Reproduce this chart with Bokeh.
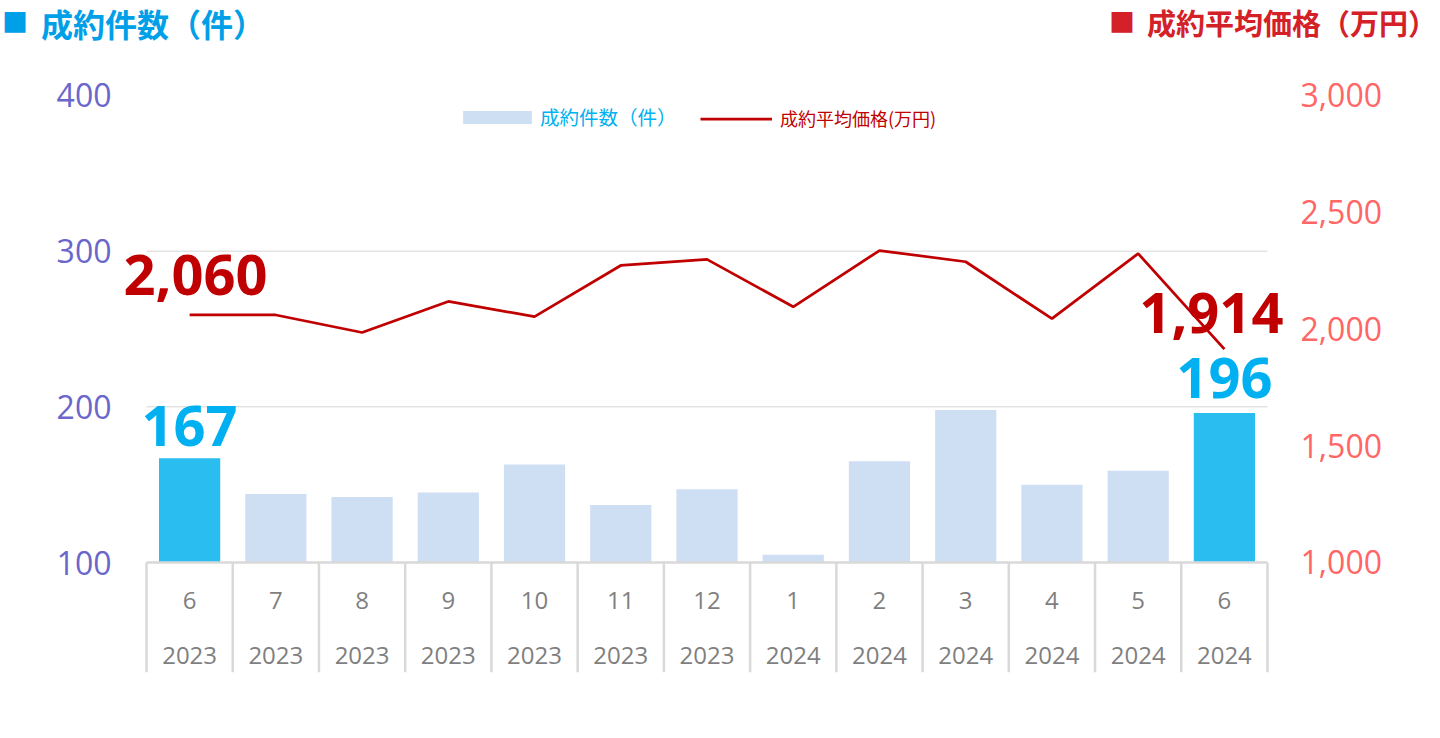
from bokeh.plotting import figure
from bokeh.layouts import column
from bokeh.models import (Range1d, LinearAxis, FixedTicker, Legend, LegendItem,
                          NumeralTickFormatter, ColumnDataSource, Div)
from bokeh.core.properties import value
from bokeh.embed import file_html
from bokeh.resources import INLINE

# ---- data ----
months = ["6", "7", "8", "9", "10", "11", "12", "1", "2", "3", "4", "5", "6"]
years = ["2023"] * 7 + ["2024"] * 6
counts = [167, 144, 142, 145, 163, 137, 147, 105, 165, 198, 150, 159, 196]
prices = [2060, 2060, 1985, 2118, 2053, 2272, 2298, 2095, 2336, 2288, 2044, 2323, 1914]
left_ticks = [100, 200, 300, 400]
right_ticks = [1000, 1500, 2000, 2500, 3000]
grid_ticks = [200, 300]
title_left = "成約件数（件）"
title_right = "成約平均価格（万円）"
legend_bar = "成約件数（件）"
legend_line = "成約平均価格(万円)"

n = len(months)
xs = [i + 0.5 for i in range(n)]
hl_idx = [0, n - 1]

JP = "Noto Sans CJK JP"
NUM = "Open Sans"
W = 1440
HEAD_H = 47
MAIN_H = 689
BLUE_T = "#00a0e9"
RED_T = "#d42027"

# ---------- header (two titles) ----------
def span(txt, left, top, size, color, bold=True):
    fw = "bold" if bold else "normal"
    return (f'<span style="position:absolute;left:{left}px;top:{top}px;line-height:normal;'
            f'font-size:{size}px;font-weight:{fw};color:{color};white-space:nowrap;'
            f'font-family:\'{JP}\';">{txt}</span>')

header_html = (f'<div style="position:relative;width:{W}px;height:{HEAD_H}px;margin:0;padding:0;">'
               + span("■", 2, 2, 26, BLUE_T, False)
               + span(title_left, 41, 0, 32, BLUE_T)
               + span("■", 1109, 2, 26, RED_T, False)
               + span(title_right, 1147, 1, 29, RED_T)
               + '</div>')
h = Div(text=header_html, width=W, height=HEAD_H, styles={"margin": "0", "padding": "0"})

# ---------- main chart ----------
y_lo, y_hi = 29.34, 425.05
p_lo, p_hi = 528.9, 3167.0
x_lo, x_hi = -0.3015, n + 0.2087

p = figure(width=W, height=MAIN_H, output_backend="svg", toolbar_location=None,
           x_range=Range1d(x_lo, x_hi), y_range=Range1d(y_lo, y_hi),
           x_axis_location=None, min_border_left=120, min_border_right=155,
           min_border_top=9, min_border_bottom=64, outline_line_color=None,
           background_fill_color="white", border_fill_color="white")
p.extra_y_ranges = {"price": Range1d(p_lo, p_hi)}

ya = p.yaxis[0]
ya.ticker = FixedTicker(ticks=left_ticks)
ya.axis_line_color = None
ya.major_tick_line_color = None
ya.minor_tick_line_color = None
ya.major_label_text_font = NUM
ya.major_label_text_font_size = "32px"
ya.major_label_text_color = "#6a66cc"
ya.major_label_standoff = 3

ra = LinearAxis(y_range_name="price", ticker=FixedTicker(ticks=right_ticks),
                formatter=NumeralTickFormatter(format="0,0"))
ra.axis_line_color = None
ra.major_tick_line_color = None
ra.minor_tick_line_color = None
ra.major_label_text_font = NUM
ra.major_label_text_font_size = "32px"
ra.major_label_text_color = "#ff6666"
ra.major_label_standoff = 9
p.add_layout(ra, "right")

p.grid.visible = False
# horizontal gridlines spanning the category area only
p.segment(x0=[0] * len(grid_ticks), y0=grid_ticks, x1=[n] * len(grid_ticks), y1=grid_ticks,
          line_color="#e3e3e3", line_width=1.5)

# bars
light = ColumnDataSource(dict(x=[xs[i] for i in range(n) if i not in hl_idx],
                              top=[counts[i] for i in range(n) if i not in hl_idx]))
hl = ColumnDataSource(dict(x=[xs[i] for i in hl_idx], top=[counts[i] for i in hl_idx]))
light_r = p.vbar(x="x", top="top", bottom=left_ticks[0], width=0.71, source=light,
                 fill_color="#cfdff3", line_color=None)
p.vbar(x="x", top="top", bottom=left_ticks[0], width=0.71, source=hl,
       fill_color="#2abdf0", line_color=None)

# line
line_r = p.line(xs, prices, y_range_name="price", line_color="#c00000", line_width=2.75)

# category axis line and separators
p.segment(x0=[0], y0=[left_ticks[0]], x1=[n], y1=[left_ticks[0]],
          line_color="#d9d9d9", line_width=2.5)
p.segment(x0=list(range(n + 1)), y0=[left_ticks[0]] * (n + 1),
          x1=list(range(n + 1)), y1=[y_lo] * (n + 1),
          line_color="#d9d9d9", line_width=2.5)

px_per_unit = 616 / (y_hi - y_lo)
month_y = left_ticks[0] - 38 / px_per_unit
year_y = left_ticks[0] - 93 / px_per_unit
p.text(x=xs, y=[month_y] * n, text=months, text_align="center", text_baseline="middle",
       text_font=value(NUM), text_font_size="24px", text_color="#7f7f7f")
p.text(x=xs, y=[year_y] * n, text=years, text_align="center", text_baseline="middle",
       text_font=value(NUM), text_font_size="24px", text_color="#7f7f7f")

# data labels
p.text(x=[xs[0]], y=[prices[0]], text=[f"{prices[0]:,}"], y_range_name="price",
       x_offset=6, y_offset=-40, text_align="center", text_baseline="middle",
       text_font=value(NUM), text_font_style="bold", text_font_size="56px",
       text_color="#c00000")
p.text(x=[xs[-1]], y=[prices[-1]], text=[f"{prices[-1]:,}"], y_range_name="price",
       x_offset=-13, y_offset=-36, text_align="center", text_baseline="middle",
       text_font=value(NUM), text_font_style="bold", text_font_size="56px",
       text_color="#c00000")
p.text(x=[xs[0], xs[-1]], y=[counts[0], counts[-1]],
       text=[str(counts[0]), str(counts[-1])],
       x_offset=[0, 0], y_offset=[-32, -35], text_align="center", text_baseline="middle",
       text_font=value(NUM), text_font_style="bold", text_font_size="56px",
       text_color="#00b0f0")

# legends
leg1 = Legend(items=[LegendItem(label=legend_bar, renderers=[light_r])],
              location=(334, 541), orientation="horizontal", glyph_width=86,
              glyph_height=16, label_standoff=0, label_height=26, padding=0, margin=0,
              border_line_color=None, background_fill_alpha=0,
              label_text_font=JP, label_text_font_size="19.5px",
              label_text_color="#00b0f0")
leg2 = Legend(items=[LegendItem(label=legend_line, renderers=[line_r])],
              location=(580, 541), orientation="horizontal", glyph_width=72,
              glyph_height=13, label_standoff=8, label_height=26, padding=0, margin=0,
              border_line_color=None, background_fill_alpha=0,
              label_text_font=JP, label_text_font_size="18px",
              label_text_color="#c00000")
p.add_layout(leg1)
p.add_layout(leg2)

layout = column(h, p, spacing=0)
open("out.html", "w").write(file_html(layout, INLINE))
